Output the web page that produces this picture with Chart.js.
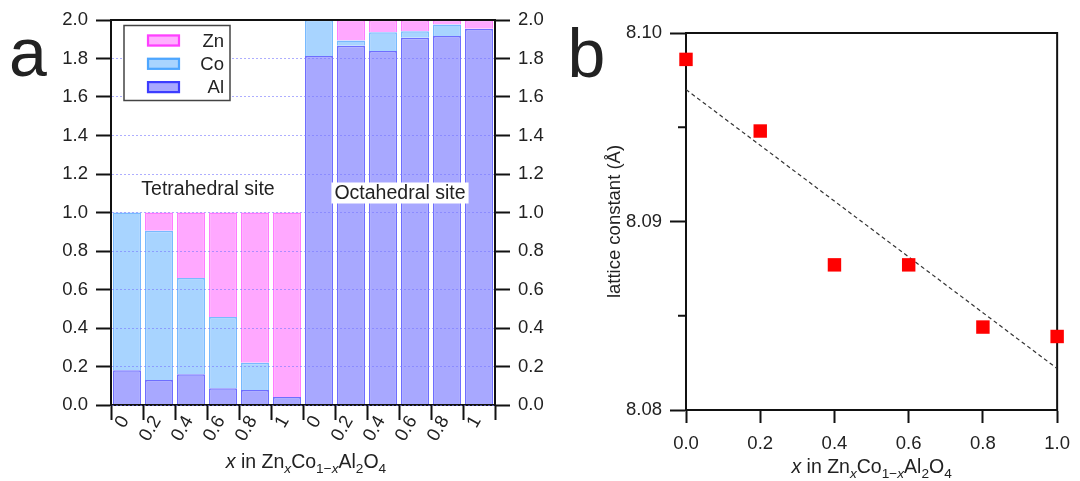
<!DOCTYPE html>
<html><head><meta charset="utf-8">
<script src="https://cdn.jsdelivr.net/npm/chart.js@4.4.1/dist/chart.umd.min.js"></script>
<style>
html,body{margin:0;padding:0;background:#fff;width:1080px;height:481px;overflow:hidden}
#wa{position:absolute;left:0;top:0;width:560px;height:481px}
#wb{position:absolute;left:560px;top:0;width:520px;height:481px}
</style></head><body>
<div id="wa"><canvas id="ca"></canvas></div>
<div id="wb"><canvas id="cb"></canvas></div>
<script>
// ---------- Panel a data ----------
const categories = ['0','0.2','0.4','0.6','0.8','1','0','0.2','0.4','0.6','0.8','1'];
const alValues = [0.18, 0.13, 0.16, 0.087, 0.078, 0.042, 1.813, 1.866, 1.839, 1.908, 1.917, 1.953];
const coValues = [0.82, 0.775, 0.50, 0.37, 0.142, 0.0, 0.187, 0.027, 0.097, 0.033, 0.059, 0.002];
const znValues = [0.0, 0.095, 0.34, 0.543, 0.78, 0.958, 0.0, 0.107, 0.064, 0.059, 0.024, 0.045];
const siteLabels = ['Tetrahedral site', 'Octahedral site'];
// ---------- Panel b data ----------
const compX = [0, 0.2, 0.4, 0.6, 0.8, 1.0];
const latticeConst = [8.0986, 8.0948, 8.0877, 8.0877, 8.0844, 8.0839];
const fitX = [0, 1];
const fitY = [8.0970, 8.0822];
const minorTicksB = [8.095, 8.085];

const FONT = "'Liberation Sans', Arial, Helvetica, sans-serif";
Chart.defaults.font.family = FONT;
Chart.defaults.color = '#222';
const TXT = '#222';
const AX = '#111';

function drawFormula(ctx, cx, baseline, size) {
  const segs = [
    {t:'x', it:true}, {t:' in Zn'}, {t:'x', it:true, sub:true}, {t:'Co'},
    {t:'1\u2212', sub:true}, {t:'x', it:true, sub:true}, {t:'Al'}, {t:'2', sub:true},
    {t:'O'}, {t:'4', sub:true}
  ];
  const ss = size * 0.7;
  const fontOf = s => (s.it ? 'italic ' : '') + (s.sub ? ss : size) + 'px ' + FONT;
  ctx.save();
  let w = 0;
  segs.forEach(s => { ctx.font = fontOf(s); s.w = ctx.measureText(s.t).width; w += s.w; });
  let x = cx - w / 2;
  ctx.fillStyle = TXT; ctx.textAlign = 'left'; ctx.textBaseline = 'alphabetic';
  segs.forEach(s => {
    ctx.font = fontOf(s);
    ctx.fillText(s.t, x, baseline + (s.sub ? size * 0.28 : 0));
    x += s.w;
  });
  ctx.restore();
}

const legendColors = {
  Zn: {fill:'#FFB0FF', stroke:'#FF40FF'},
  Co: {fill:'#A8D4FF', stroke:'#4DA6FF'},
  Al: {fill:'#A8A8FF', stroke:'#3C3CFF'}
};

const plugA = {
  id: 'plugA',
  afterDraw(chart) {
    const {ctx, chartArea: ca} = chart;
    ctx.save();
    // top frame line
    ctx.strokeStyle = AX; ctx.lineWidth = 2;
    ctx.beginPath(); ctx.moveTo(ca.left - 1, ca.top); ctx.lineTo(ca.right + 1, ca.top); ctx.stroke();
    // legend
    ctx.fillStyle = '#fff';
    ctx.fillRect(124, 25.5, 106, 75);
    ctx.strokeStyle = '#444'; ctx.lineWidth = 1.5;
    ctx.strokeRect(124, 25.5, 106, 75);
    const ds = chart.data.datasets.slice().reverse();
    ds.forEach((d, i) => {
      const y = 34.5 + i * 23.3;
      const c = legendColors[d.label];
      ctx.fillStyle = c.fill; ctx.fillRect(147, y, 33, 12);
      ctx.strokeStyle = c.stroke; ctx.lineWidth = 2.2; ctx.strokeRect(148, y + 1, 31, 10);
      ctx.fillStyle = TXT; ctx.font = '18.5px ' + FONT; ctx.textAlign = 'right'; ctx.textBaseline = 'alphabetic';
      ctx.fillText(d.label, 224, y + 12.3);
    });
    // site labels
    ctx.font = '19.5px ' + FONT; ctx.textAlign = 'center'; ctx.textBaseline = 'alphabetic';
    ctx.fillStyle = TXT;
    ctx.fillText(siteLabels[0], 208, 195);
    const w = ctx.measureText(siteLabels[1]).width;
    ctx.fillStyle = '#fff';
    ctx.fillRect(400 - w / 2 - 3, 182.5, w + 6, 21);
    ctx.fillStyle = TXT;
    ctx.fillText(siteLabels[1], 400, 199);
    // panel letter
    ctx.font = '68px ' + FONT; ctx.textAlign = 'left';
    ctx.fillText('a', 9, 76);
    // x-axis title
    drawFormula(ctx, (ca.left + ca.right) / 2 + 3, 468, 19.5);
    ctx.restore();
  }
};

const chartA = new Chart(document.getElementById('ca'), {
  type: 'bar',
  data: {
    labels: categories,
    datasets: [
      {label:'Al', data: alValues, backgroundColor:'#A8A8FF', borderColor:'#6E6EFF', borderWidth:1.5},
      {label:'Co', data: coValues, backgroundColor:'#A8D4FF', borderColor:'#78BAFF', borderWidth:1.5},
      {label:'Zn', data: znValues, backgroundColor:'#FFA8FF', borderColor:'#FF7CFF', borderWidth:1.5}
    ]
  },
  options: {
    responsive: true, maintainAspectRatio: false, animation: false,
    layout: {padding: {top: 20, left: 0, right: 0, bottom: 0}},
    plugins: {legend: {display: false}, tooltip: {enabled: false}},
    datasets: {bar: {barPercentage: 0.875, categoryPercentage: 1}},
    scales: {
      x: {
        stacked: true, offset: true,
        grid: {offset: true, drawOnChartArea: false, tickLength: 15, tickColor: AX, tickWidth: 2},
        border: {display: true, color: AX, width: 2, z: 1},
        ticks: {autoSkip: false, minRotation: 60, maxRotation: 60, padding: -8, labelOffset: -2, font: {size: 18.5}, color: TXT},
        afterFit: s => { s.height = 76; }
      },
      y: {
        stacked: true, position: 'left', min: 0, max: 2,
        ticks: {stepSize: 0.2, padding: 8, callback: v => Number(v).toFixed(1), font: {size: 18.5}, color: TXT},
        grid: {color: 'rgba(120,120,255,0.6)', lineWidth: 1, tickColor: AX, tickWidth: 2, tickLength: 15, tickBorderDash: [], z: 1},
        border: {display: true, color: AX, width: 2, z: 1, dash: [2, 2]},
        afterFit: s => { s.width = 111; }
      },
      y2: {
        position: 'right', min: 0, max: 2,
        ticks: {stepSize: 0.2, padding: 8, callback: v => Number(v).toFixed(1), font: {size: 18.5}, color: TXT},
        grid: {drawOnChartArea: false, tickColor: AX, tickWidth: 2, tickLength: 15},
        border: {display: true, color: AX, width: 2, z: 1},
        afterFit: s => { s.width = 65; }
      }
    }
  },
  plugins: [plugA]
});

const plugB = {
  id: 'plugB',
  beforeDatasetsDraw(chart) {
    const {ctx, chartArea: ca} = chart;
    ctx.save();
    ctx.strokeStyle = AX; ctx.lineWidth = 2;
    ctx.strokeRect(ca.left, ca.top, ca.right - ca.left, ca.bottom - ca.top);
    // minor ticks
    const ys = chart.scales.y;
    minorTicksB.forEach(v => {
      const p = ys.getPixelForValue(v);
      ctx.beginPath(); ctx.moveTo(ca.left - 8, p); ctx.lineTo(ca.left, p); ctx.stroke();
    });
    ctx.restore();
  },
  afterDraw(chart) {
    const {ctx, chartArea: ca} = chart;
    ctx.save();
    ctx.fillStyle = TXT;
    ctx.font = '68px ' + FONT; ctx.textAlign = 'left'; ctx.textBaseline = 'alphabetic';
    ctx.fillText('b', 7.5, 76.5);
    drawFormula(ctx, (ca.left + ca.right) / 2, 473, 19.5);
    ctx.restore();
  }
};

const chartB = new Chart(document.getElementById('cb'), {
  type: 'scatter',
  data: {
    datasets: [
      {type: 'line', label: 'fit', data: fitX.map((x, i) => ({x, y: fitY[i]})),
       borderColor: '#333', borderWidth: 1.2, borderDash: [4, 3], pointRadius: 0, fill: false, order: 2},
      {type: 'scatter', label: 'lattice', data: compX.map((x, i) => ({x, y: latticeConst[i]})),
       backgroundColor: '#FF0000', borderColor: '#FF0000', borderWidth: 0, pointStyle: 'rect', pointRadius: 9.5,
       clip: false, order: 1}
    ]
  },
  options: {
    responsive: true, maintainAspectRatio: false, animation: false,
    layout: {padding: {top: 33, right: 20, left: 0, bottom: 0}},
    plugins: {legend: {display: false}, tooltip: {enabled: false}},
    scales: {
      x: {
        type: 'linear', min: 0, max: 1,
        ticks: {stepSize: 0.2, callback: v => Number(v).toFixed(1), padding: 10, font: {size: 18.5}, color: TXT},
        grid: {drawOnChartArea: false, tickLength: 13, tickColor: AX, tickWidth: 2},
        border: {display: true, color: AX, width: 2},
        afterFit: s => { s.height = 71; }
      },
      y: {
        min: 8.08, max: 8.10,
        ticks: {stepSize: 0.01, callback: v => Number(v).toFixed(2), padding: 8, font: {size: 18.5}, color: TXT},
        grid: {drawOnChartArea: false, tickLength: 16, tickColor: AX, tickWidth: 2},
        border: {display: true, color: AX, width: 2},
        title: {display: true, text: 'lattice constant (Å)', font: {size: 18.5}, color: TXT, padding: {top: 44, bottom: 0}},
        afterFit: s => { s.width = 126; }
      }
    }
  },
  plugins: [plugB]
});
</script>
</body></html>
